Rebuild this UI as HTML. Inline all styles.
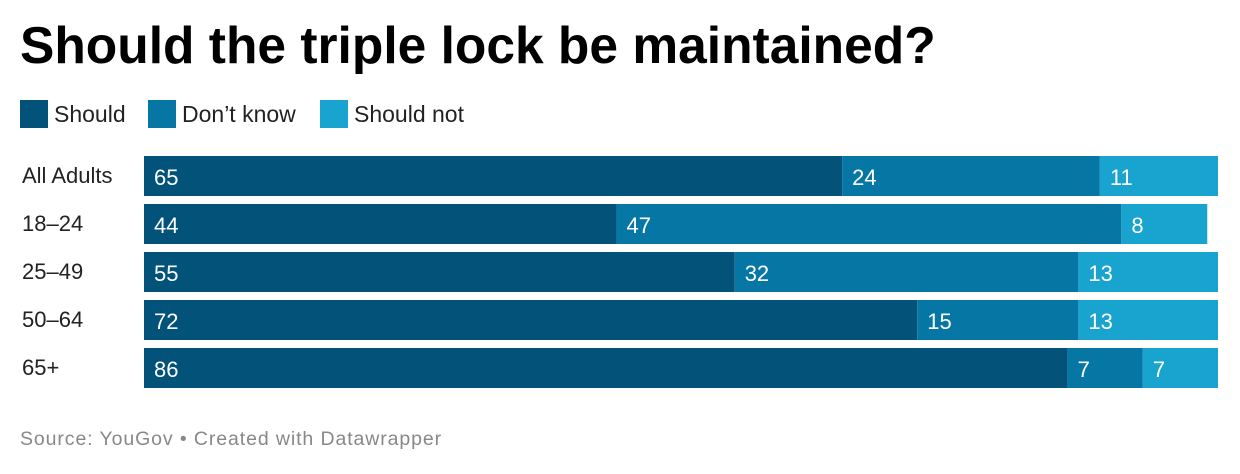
<!DOCTYPE html>
<html><head><meta charset="utf-8"><style>
body{margin:0;width:1240px;height:474px;background:#fff;font-family:"Liberation Sans",sans-serif;position:relative;overflow:hidden}
.t{position:absolute;left:20px;top:15px;font-size:51.5px;font-weight:bold;color:#000;letter-spacing:0}
.leg{position:absolute;top:100px;height:28px;display:flex;align-items:center;font-size:23px;color:#222}
.sw{width:28px;height:28px;margin-right:6px}
.lab{position:absolute;left:22px;font-size:22px;color:#222}
.src{position:absolute;left:20px;top:428px;font-size:19.5px;color:#888;letter-spacing:0.9px}
</style></head><body>
<div class="t">Should the triple lock be maintained?</div>
<div class="leg" style="left:20px"><div class="sw" style="background:#03527a"></div>Should</div>
<div class="leg" style="left:148px"><div class="sw" style="background:#0677a5"></div>Don’t know</div>
<div class="leg" style="left:320px"><div class="sw" style="background:#19a3cf"></div>Should not</div>
<svg id="c" width="1240" height="474" style="position:absolute;left:0;top:0"></svg>
<div class="src">Source: YouGov • Created with Datawrapper</div>
<script>
const categories=["All Adults","18–24","25–49","50–64","65+"];
const should=[65,44,55,72,86];
const dontKnow=[24,47,32,15,7];
const shouldNot=[11,8,13,13,7];
const colors=["#03527a","#0677a5","#19a3cf"];
const x0=144,scale=10.74,top0=156,step=48,h=40;
const svg=document.getElementById('c');
const ns="http://www.w3.org/2000/svg";
function x(v){return x0+v*scale;}
categories.forEach((c,i)=>{
  const y=top0+i*step;
  const lab=document.createElement('div');
  lab.className='lab';lab.style.top=(y+7)+'px';lab.textContent=c;
  
  
  document.body.appendChild(lab);
  let acc=0;
  [should[i],dontKnow[i],shouldNot[i]].forEach((v,j)=>{
    const r=document.createElementNS(ns,'rect');
    r.setAttribute('x',x(acc));r.setAttribute('y',y);
    r.setAttribute('width',v*scale);r.setAttribute('height',h);
    r.setAttribute('fill',colors[j]);
    
    
    svg.appendChild(r);
    const t=document.createElementNS(ns,'text');
    t.setAttribute('x',x(acc)+10);t.setAttribute('y',y+29);
    t.setAttribute('fill','#fff');t.setAttribute('font-size','22');
    t.setAttribute('font-family','Liberation Sans, sans-serif');
    t.textContent=v;
    
    
    svg.appendChild(t);
    acc+=v;
  });
});
</script>
</body></html>
